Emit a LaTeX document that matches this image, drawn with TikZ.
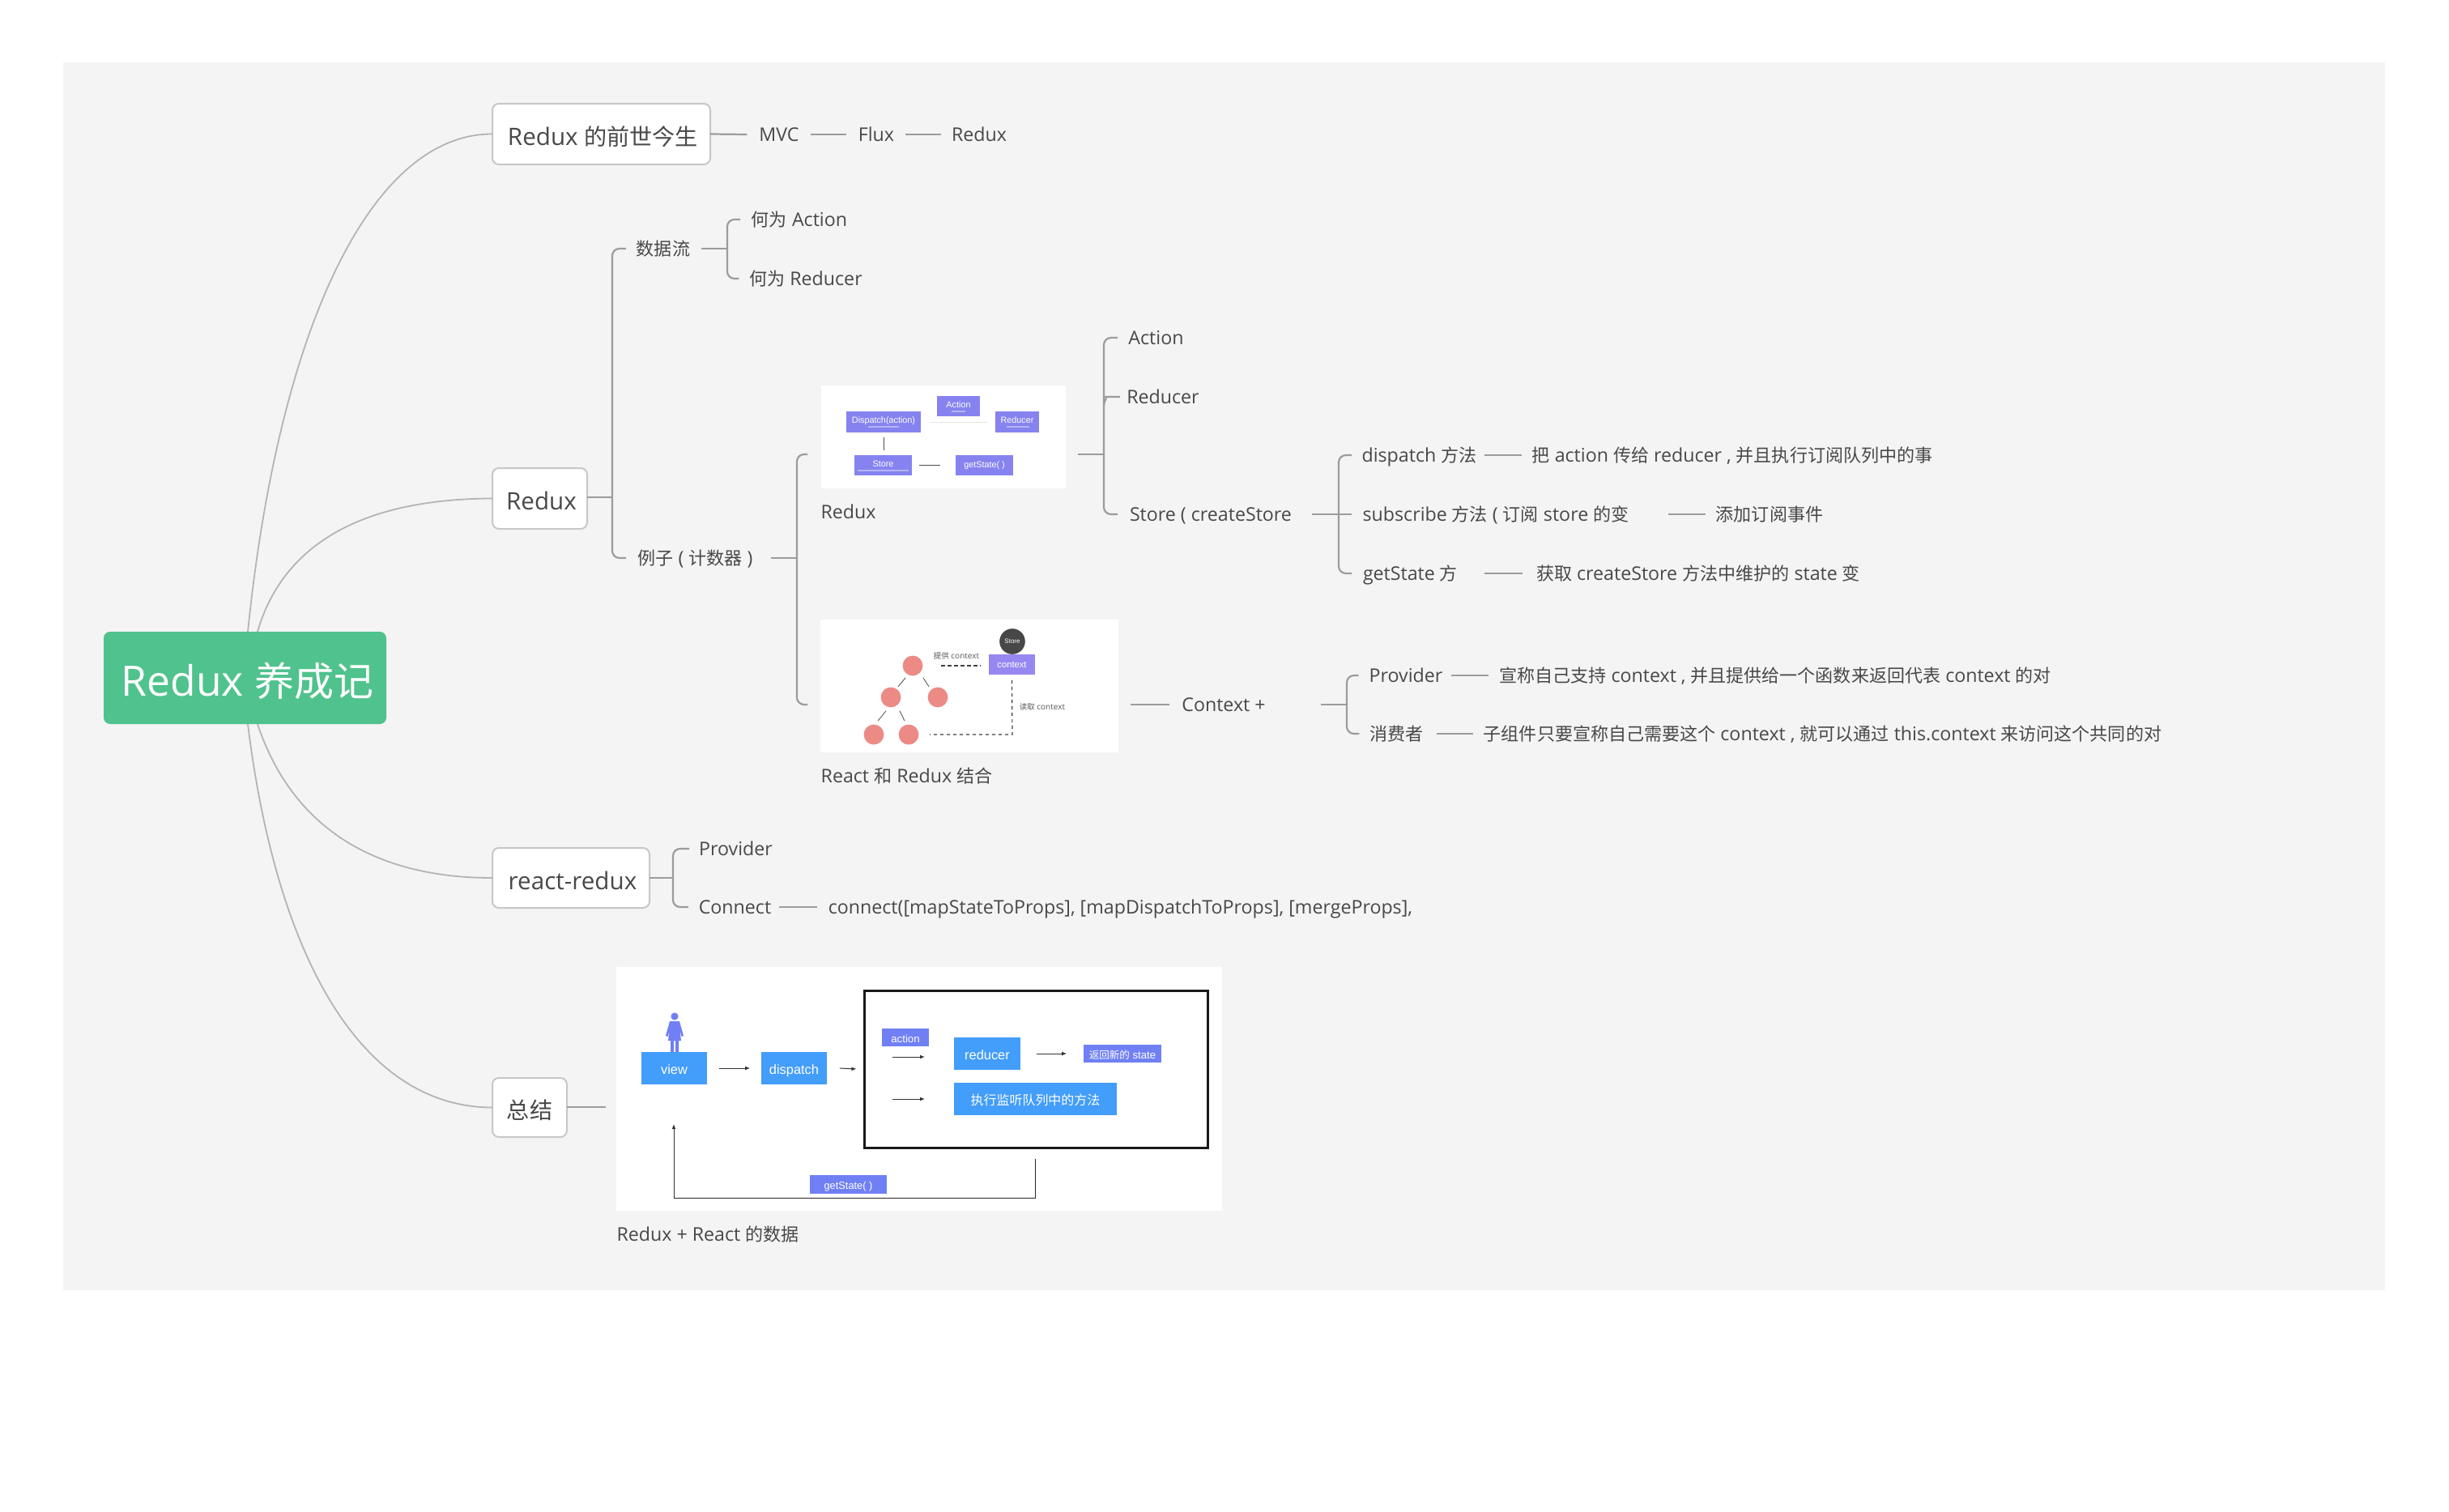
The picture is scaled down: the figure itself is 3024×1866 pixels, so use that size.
\documentclass[tikz,border=0pt]{standalone}
\usepackage{fontspec}
\setmainfont{Open Sans}
\newfontfamily\zh[Scale=0.95]{Noto Sans CJK SC}
\newfontfamily\hv{Liberation Sans}
\usetikzlibrary{arrows.meta}
\definecolor{bgc}{HTML}{F4F4F4}
\definecolor{tc}{HTML}{484848}
\definecolor{lnc}{HTML}{9C9C9C}
\definecolor{crv}{HTML}{B4B4B4}
\definecolor{grn}{HTML}{50C28D}
\definecolor{pur}{HTML}{8683F0}
\definecolor{lav}{HTML}{9688F0}
\definecolor{blu}{HTML}{439DFA}
\definecolor{ind}{HTML}{7080F4}
\definecolor{sal}{HTML}{EC8A85}
\newcommand{\fs}[1]{\fontsize{#1}{#1}\selectfont}
\newcommand{\tl}[5]{\node[txt,minimum width={(#3-#2)*0.25pt}] (#1) at ({(#2+#3)/2},#4) {#5};}
\newcommand{\bx}[7]{\node[#6,minimum width={(#4-#2)*0.25pt},minimum height={(#5-#3)*0.25pt}] (#1) at ({(#2+#4)/2},{(#3+#5)/2}) {#7};}
\tikzset{
 x=0.25pt,y=-0.25pt,
 txt/.style={inner sep=0pt,outer sep=0pt,text=tc,font=\fs{5.8},text height=5.5pt,text depth=1.4pt},
 topic/.style={draw=black!22,fill=white,line width=0.5pt,rounded corners=2pt,inner sep=0pt,outer sep=0pt,text=tc,font=\fs{7.4},text height=7.8pt,text depth=0.8pt},
 rootbox/.style={fill=grn,rounded corners=2pt,inner sep=0pt,outer sep=0pt,text=white,font=\fs{12.9},text height=12.5pt,text depth=1.1pt},
 pic/.style={fill=white,inner sep=0pt,outer sep=0pt},
 curve/.style={draw=crv,line width=0.45pt},
 conn/.style={draw=lnc,line width=0.55pt},
 brk/.style={draw=lnc,line width=0.55pt,rounded corners=2.2pt},
 pbox/.style={fill=pur,inner sep=0pt,text=white,font=\hv\fs{2.7}},
 cbox/.style={fill=lav,inner sep=0pt,text=white,font=\hv\fs{2.8}},
 bbox/.style={fill=blu,inner sep=0pt,text=white,font=\hv\fs{4.1},text height=4.2pt,text depth=0.6pt},
 ibox/.style={fill=ind,inner sep=0pt,text=white,font=\hv\fs{3.3},text height=3.6pt,text depth=0.6pt},
 dot/.style={circle,fill=sal,draw=none,inner sep=0pt,minimum size=6.2pt},
 thin1/.style={draw=black!70,line width=0.2pt},
 dsh/.style={draw=black!75,line width=0.3pt,dash pattern=on 1.1pt off 0.9pt},
 arr/.style={draw=black!80,line width=0.25pt,-{Latex[length=1.5pt,width=1.2pt]}},
 blur/.style={draw=white,opacity=0.4,line width=0.35pt},
 small/.style={inner sep=0pt,text=black!65,font=\fs{2.5}},
}
\begin{document}
\begin{tikzpicture}
\useasboundingbox (0,0) rectangle (3024,1866);
\fill[bgc] (78,77) rectangle (2945,1593);

% main topics
\bx{root}{128}{780}{477}{894}{rootbox}{\hspace{1.5pt}Redux {\zh 养成记}}
\bx{b1}{608}{128}{877}{203}{topic}{\hspace{1pt}Redux {\zh 的前世今生}}
\bx{b2}{608}{578}{725}{653}{topic}{\hspace{1pt}Redux}
\bx{b3}{608}{1047}{802}{1121}{topic}{\hspace{1pt}react-redux}
\bx{b4}{608}{1331}{700}{1404}{topic}{\zh 总结}

\coordinate (ra) at (306,780);
\coordinate (rb) at (318,780);
\coordinate (rc) at (306,894);
\coordinate (rd) at (318,894);
\draw[curve] (ra) .. controls (345,400) and (460,165) .. (b1.west);
\draw[curve] (rb) .. controls (350,670) and (450,616) .. (b2.west);
\draw[curve] (rd) .. controls (360,1020) and (460,1084) .. (b3.west);
\draw[curve] (rc) .. controls (340,1170) and (440,1367) .. (b4.west);

% branch 1
\tl{mvc}{938}{986}{166}{MVC}
\tl{flux}{1062}{1102}{166}{Flux}
\tl{rdx}{1177}{1241}{166}{Redux}
\draw[conn] (b1.east) -- ([xshift=-3.75pt]mvc.west);
\draw[conn] ([xshift=3.5pt]mvc.east) -- ([xshift=-3.75pt]flux.west);
\draw[conn] ([xshift=3.5pt]flux.east) -- ([xshift=-3.25pt]rdx.west);

% branch 2
\tl{flow}{786}{852}{307}{\zh 数据流}
\tl{qa}{927}{1047}{271}{{\zh 何为} Action}
\tl{qr}{927}{1063}{344}{{\zh 何为} Reducer}
\tl{eg}{786}{931}{689}{{\zh 例子} ( {\zh 计数器} )}
\coordinate (v1) at (756,614);
\coordinate (v2) at (898,307);
\coordinate (v3) at (984,689);
\draw[conn] (b2.east |- v1) -- (v1);
\draw[brk] ([xshift=-3.25pt]flow.west) -| (v1) |- ([xshift=-3.25pt]eg.west);
\draw[conn] ([xshift=3.5pt]flow.east) -- (v2);
\draw[brk] ([xshift=-3.25pt]qa.west) -| (v2) |- ([xshift=-3.25pt]qr.west);
\draw[conn] ([xshift=5.25pt]eg.east) -- (v3);

% image 1
\bx{img1}{1014}{476}{1316}{603}{pic}{}
\bx{dsp}{1045}{508}{1137}{534}{pbox}{\raisebox{1pt}{Dispatch(action)}}
\bx{act}{1157}{489}{1210}{514}{pbox}{\raisebox{1pt}{Action}}
\bx{red}{1229}{508}{1283}{534}{pbox}{\raisebox{1pt}{Reducer}}
\bx{sto}{1055}{562}{1126}{587}{pbox}{\raisebox{1pt}{Store}}
\bx{gst}{1180}{562}{1251}{587}{pbox}{getState( )}
\draw[thin1] ([yshift=-1.25pt]dsp.south) -- ([yshift=1.25pt,xshift=0pt]dsp.south |- sto.north);
\draw[thin1] ([xshift=2pt]sto.east) -- ([xshift=-4.5pt]gst.west);
\draw[draw=black!10,line width=0.25pt] ([xshift=2.5pt]dsp.east) -- ([xshift=-2.25pt]red.west);
\coordinate (bl1) at (1072,527); \coordinate (bl2) at (1110,527);
\coordinate (bl3) at (1175,508); \coordinate (bl4) at (1192,508);
\coordinate (bl5) at (1243,527); \coordinate (bl6) at (1271,527);
\coordinate (bl7) at (1059,581); \coordinate (bl8) at (1122,581);
\draw[blur] (bl1) -- (bl2); \draw[blur] (bl3) -- (bl4);
\draw[blur] (bl5) -- (bl6); \draw[blur] (bl7) -- (bl8);
\tl{cap1}{1016}{1079}{632}{Redux}

% image 2
\bx{img2}{1013}{765}{1381}{929}{pic}{}
\node[dot] (n1) at (1127,822) {};
\node[dot] (n2) at (1100,861) {};
\node[dot] (n3) at (1158,861) {};
\node[dot] (n4) at (1079,907) {};
\node[dot] (n5) at (1122,907) {};
\node[circle,fill=black!72,inner sep=0pt,minimum size=7.9pt,text=white,font=\hv\fs{2}] (stc) at (1250,792) {Store};
\bx{ctx}{1221}{808}{1278}{833}{cbox}{context}
\draw[thin1] ([shift={(-2.2pt,-0.4pt)}]n1.south) -- ([shift={(2.25pt,0pt)}]n2.north);
\draw[thin1] ([shift={(3.2pt,-0.4pt)}]n1.south) -- ([shift={(-2.75pt,0pt)}]n3.north);
\draw[thin1] ([shift={(-1.5pt,-0.9pt)}]n2.south) -- ([shift={(1.25pt,0.9pt)}]n4.north);
\draw[thin1] ([shift={(2.75pt,-0.9pt)}]n2.south) -- ([shift={(-1.25pt,0.9pt)}]n5.north);
\draw[dsh] ([xshift=5.5pt]n1.east) -- ([xshift=-2.25pt]ctx.west |- n1.east);
\coordinate (cr) at (1250,907);
\draw[dsh] ([yshift=-1.5pt]ctx.south) -- (cr) -- ([xshift=3.2pt]n5.east);
\node[small] (l1) at (1181,810) {{\zh 提供} context};
\node[small,anchor=west] (l2) at (1258,873) {{\zh 读取} context};
\tl{cap2}{1015}{1224}{958}{React {\zh 和} Redux {\zh 结合}}

% counter stem brackets
\coordinate (v4) at (1363,561);
\coordinate (v5) at (1653,635);
\coordinate (v6) at (1663,870);
\node[inner sep=0pt] (ghi) at (1000,561) {};
\node[inner sep=0pt] (gho) at (1000,870) {};
\draw[brk] (ghi) -| (v3) |- (gho);

\tl{aa}{1393}{1462}{417}{Action}
\tl{ar}{1393}{1479}{490}{Reducer}
\tl{as}{1393}{1597}{635}{Store ( createStore}
\coordinate (e11) at (1380,417);
\coordinate (e12) at (1380,490);
\coordinate (e13) at (1380,635);
\draw[conn] ([xshift=3.75pt]img1.east |- v4) -- (v4);
\draw[brk] (e11) -| (v4) |- (e13);
\draw[brk] (e12) -- ++(-6,0) to[out=180,in=90] ++(-11,11);

\tl{d1}{1682}{1823}{562}{dispatch {\zh 方法}}
\tl{d2}{1682}{2012}{635}{subscribe {\zh 方法} ( {\zh 订阅} store {\zh 的变}}
\tl{d3}{1680}{1803}{708}{getState {\zh 方}}
\tl{e1}{1893}{2385}{562}{{\zh 把} action {\zh 传给} reducer , {\zh 并且执行订阅队列中的事}}
\tl{e2}{2120}{2250}{635}{\zh 添加订阅事件}
\tl{e3}{1893}{2301}{708}{{\zh 获取} createStore {\zh 方法中维护的} state {\zh 变}}
\coordinate (e21) at (1669,562);
\coordinate (e22) at (1669,635);
\coordinate (e23) at (1669,708);
\coordinate (s2) at (1620,635);
\coordinate (e31) at (1833,562);
\coordinate (e32) at (2060,635);
\coordinate (e33) at (1833,708);
\draw[conn] (s2) -- (v5);
\draw[brk] (e21) -| (v5) |- (e23);
\draw[conn] (v5) -- (e22);
\draw[conn] (e31) -- ([xshift=-3.25pt]e1.west);
\draw[conn] (e32) -- ([xshift=-3.25pt]e2.west);
\draw[conn] (e33) -- ([xshift=-3.25pt]e3.west);

\tl{cx}{1457}{1565}{870}{Context +}
\draw[conn] ([xshift=3.75pt]img2.east |- cx.west) -- ([xshift=-3.25pt]cx.west);
\tl{p1}{1692}{1780}{834}{Provider}
\tl{p2}{1692}{1757}{906}{\zh 消费者}
\tl{q1}{1850}{2534}{834}{{\zh 宣称自己支持} context , {\zh 并且提供给一个函数来返回代表} context {\zh 的对}}
\tl{q2}{1832}{2669}{906}{{\zh 子组件只要宣称自己需要这个} context , {\zh 就可以通过} this.context {\zh 来访问这个共同的对}}
\draw[conn] ([xshift=16.5pt]cx.east) -- (v6);
\draw[brk] ([xshift=-3.25pt]p1.west) -| (v6) |- ([xshift=-3.25pt]p2.west);
\draw[conn] ([xshift=2.75pt]p1.east) -- ([xshift=-3pt]q1.west);
\draw[conn] ([xshift=4pt]p2.east) -- ([xshift=-3.25pt]q2.west);

% branch 3
\tl{rp}{864}{953}{1048}{Provider}
\tl{rc2}{862}{953}{1120}{Connect}
\tl{rf}{1022}{1745}{1120}{connect([mapStateToProps], [mapDispatchToProps], [mergeProps],}
\coordinate (v7) at (831,1084);
\draw[conn] (b3.east |- v7) -- (v7);
\draw[brk] ([xshift=-3pt]rp.west) -| (v7) |- ([xshift=-3pt]rc2.west);
\draw[conn] ([xshift=2.25pt]rc2.east) -- ([xshift=-3.25pt]rf.west);

% branch 4, image 3
\bx{img3}{761}{1194}{1509}{1495}{pic}{}
\coordinate (sm) at (748,1367);
\draw[conn] (b4.east |- sm) -- (sm);
\bx{view}{792}{1299}{873}{1339}{bbox}{view}
\bx{dis}{940}{1299}{1021}{1339}{bbox}{dispatch}
\node[draw=black!90,line width=0.75pt,inner sep=0pt,minimum width=106pt,minimum height=48.5pt] (blk) at (1279,1320) {};
\bx{ac3}{1089}{1270}{1147}{1292}{ibox}{action}
\bx{re3}{1178}{1281}{1260}{1321}{bbox}{reducer}
\bx{ns3}{1338}{1290}{1434}{1312}{ibox}{{\zh 返回新的} state}
\bx{ex3}{1178}{1337}{1379}{1377}{bbox}{\fs{4.2}\zh 执行监听队列中的方法}
\bx{gs3}{1000}{1451}{1095}{1474}{ibox}{\fs{3.2}getState( )}
\fill[ind] (833,1255) circle[radius=4.6];
\fill[ind] (827,1261) -- (839,1261) -- (844,1279) -- (841.5,1280) -- (839.5,1272) -- (841,1285) -- (838,1285) -- (838,1299) -- (834,1299) -- (834,1285) -- (832,1285) -- (832,1299) -- (828,1299) -- (828,1285) -- (825,1285) -- (826.5,1272) -- (824.5,1280) -- (822,1279) -- cycle;
\draw[arr] ([xshift=3.5pt]view.east) -- ([xshift=-3.25pt]dis.west);
\draw[arr] ([xshift=3.75pt]dis.east) -- ([xshift=-2pt]blk.west);
\coordinate (a1) at (1102,1305); \coordinate (a2) at (1142,1305);
\coordinate (a3) at (1102,1357); \coordinate (a4) at (1142,1357);
\draw[arr] (a1) -- (a2);
\draw[arr] (a3) -- (a4);
\draw[arr] ([xshift=4.75pt]re3.east) -- ([xshift=-5pt]ns3.west |- re3.east);
\coordinate (g1) at (1278,1431);
\coordinate (g2) at (1278,1479);
\coordinate (g3) at (832,1479);
\coordinate (g4) at (832,1388);
\draw[draw=black!85,line width=0.25pt] (g1) -- (g2) -- (g3);
\draw[arr] (g3) -- (g4);
\tl{cap3}{762}{986}{1524}{Redux + React {\zh 的数据}}
\end{tikzpicture}
\end{document}
